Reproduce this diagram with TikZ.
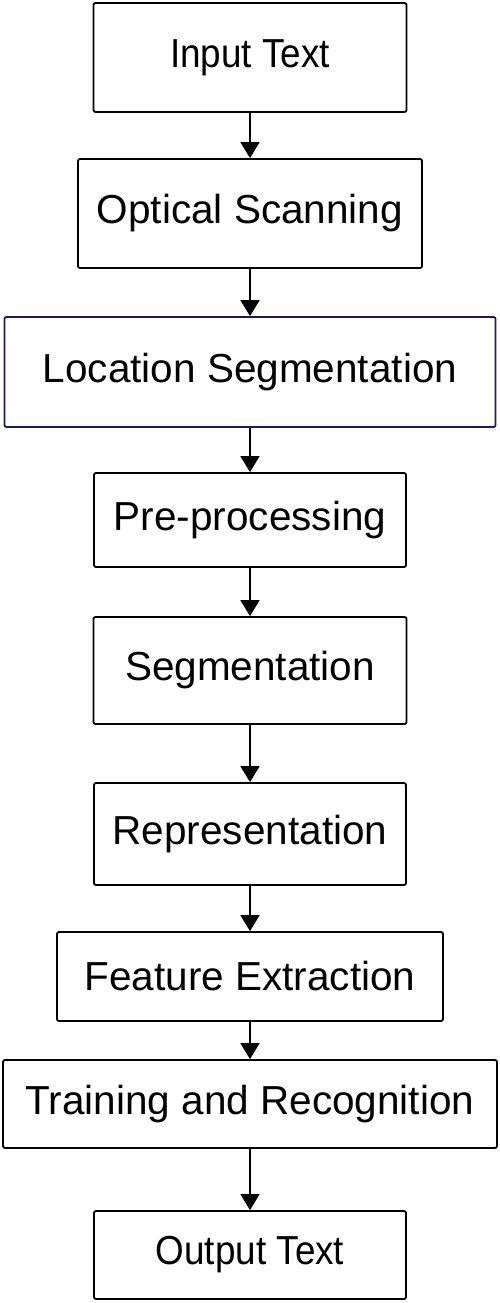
\documentclass[tikz,border=0pt]{standalone}
\usepackage{fontspec}
\setmainfont{Liberation Sans}
\newfontfamily\narrowsans[FakeStretch=0.91]{Liberation Sans}
\usepackage{xcolor}
\usetikzlibrary{arrows.meta}

\definecolor{navy}{RGB}{28,28,86}

\begin{document}
\begin{tikzpicture}[x=1pt, y=-1pt,
    stage/.style={draw, line width=1.8pt, rounded corners=2pt, inner sep=0pt,
      font=\fontsize{40.5}{48}\selectfont},
    endstage/.style={stage, font=\narrowsans\fontsize{40.5}{48}\selectfont},
    flow/.style={line width=1.8pt, -{Triangle[width=19pt, length=16pt]}}]
    \useasboundingbox (0,0) rectangle (500,1303);
    \node [endstage, minimum width=313pt, minimum height=109pt] (input) at (250,57.5) {Input Text};
    \node [stage, minimum width=344pt, minimum height=109pt] (optical) at (250,213.5) {Optical Scanning};
    \node [stage, draw=navy, minimum width=491pt, minimum height=110pt] (location) at (250,372) {Location Segmentation};
    \node [stage, minimum width=312pt, minimum height=94pt] (preproc) at (250,520) {Pre-processing};
    \node [stage, minimum width=313pt, minimum height=107pt] (segment) at (250,670.5) {Segmentation};
    \node [stage, minimum width=312pt, minimum height=102pt] (repr) at (250,834) {Representation};
    \node [stage, minimum width=386pt, minimum height=89pt] (feature) at (250,976.5) {Feature Extraction};
    \node [stage, minimum width=494pt, minimum height=88pt] (training) at (250,1104) {Training and Recognition};
    \node [endstage, minimum width=312pt, minimum height=88pt] (output) at (250,1255) {Output Text};
    \draw [flow] (input) -- (optical);
    \draw [flow] (optical) -- (location);
    \draw [flow] (location) -- (preproc);
    \draw [flow] (preproc) -- (segment);
    \draw [flow] (segment) -- (repr);
    \draw [flow] (repr) -- (feature);
    \draw [flow] (feature) -- (training);
    \draw [flow] (training) -- (output);
\end{tikzpicture}
\end{document}
